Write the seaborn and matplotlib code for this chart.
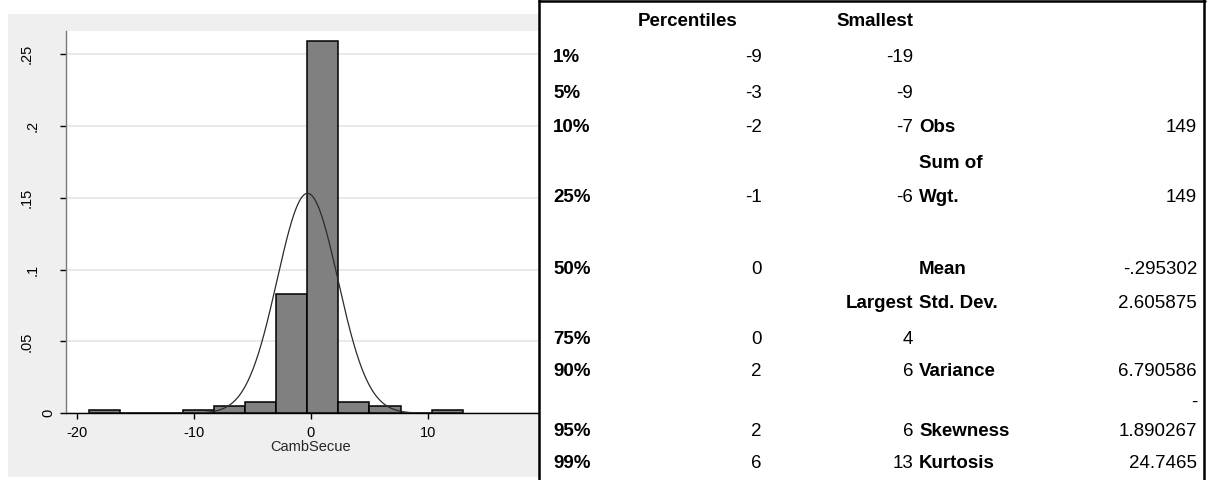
import numpy as np
import pandas as pd
import matplotlib
matplotlib.use("Agg")
import matplotlib.pyplot as plt
from matplotlib.patches import Rectangle
from matplotlib.lines import Line2D
from matplotlib.transforms import blended_transform_factory
import seaborn as sns

# Histogram of CambSecue: bin edges and observation counts per bin
bin_edges = [-19, -16.333, -13.667, -11, -8.333, -5.667, -3,
             -0.333, 2.333, 5, 7.667, 10.333, 13]
bin_counts = [1, 0, 0, 1, 2, 3, 33, 103, 3, 2, 0, 1]

# Summary statistics table
pct_labels = ["1%", "5%", "10%", "25%", "50%", "75%", "90%", "95%", "99%"]
pct_values = ["-9", "-3", "-2", "-1", "0", "0", "2", "2", "6"]
smallest = ["-19", "-9", "-7", "-6"]
largest = ["4", "6", "6", "13"]
obs = 149
sum_wgt = 149
mean = -0.295302
std_dev = 2.605875
variance = 6.790586
skewness = -1.890267
kurtosis = 24.7465
y_ticks = [0, 0.05, 0.1, 0.15, 0.2, 0.25]
y_tick_labels = ["0", ".05", ".1", ".15", ".2", ".25"]
x_ticks = [-20, -10, 0, 10]

W, H = 1207, 480
sns.set_theme(style="white")
plt.rcParams["font.family"] = ["Liberation Sans", "DejaVu Sans"]
plt.rcParams["text.color"] = "black"
plt.rcParams["xtick.color"] = "black"
plt.rcParams["ytick.color"] = "black"

fig = plt.figure(figsize=(W / 100, H / 100), dpi=100)
fig.patch.set_facecolor("white")


def fx(px):
    return px / W


def fy(py):
    return 1 - py / H


# light grey graph region behind the histogram
fig.patches.append(Rectangle((fx(8), fy(476.7)), fx(539) - fx(8), fy(14) - fy(476.7),
                             transform=fig.transFigure, facecolor="#efefef",
                             edgecolor="none", zorder=-5))

ax_l, ax_r, ax_t, ax_b = 65.7, 539, 31, 413.3
ax = fig.add_axes([fx(ax_l), fy(ax_b), fx(ax_r) - fx(ax_l), fy(ax_t) - fy(ax_b)])
ax.set_zorder(1)
ax.set_facecolor("white")

centers = [(a + b) / 2 for a, b in zip(bin_edges[:-1], bin_edges[1:])]
hist_df = pd.DataFrame({"CambSecue": centers, "n": bin_counts})
sns.histplot(data=hist_df, x="CambSecue", weights="n", bins=bin_edges,
             stat="density", color="#808080", edgecolor="black",
             linewidth=1.1, alpha=1, ax=ax, zorder=3)

# normal density with the sample mean and standard deviation
xs = np.linspace(bin_edges[0], bin_edges[-1], 600)
pdf = np.exp(-0.5 * ((xs - mean) / std_dev) ** 2) / (std_dev * np.sqrt(2 * np.pi))
sns.lineplot(x=xs, y=pdf, color="#2b2b2b", linewidth=0.9, ax=ax, zorder=4)

ax.set_xlim(-21.0, 19.52)
ax.set_ylim(0, 0.2661)
ax.set_yticks(y_ticks)
ax.set_yticklabels([])
ax.set_xticks(x_ticks)
ax.set_xticklabels([str(t) for t in x_ticks], fontsize=10.5)
ax.set_xlabel("CambSecue", fontsize=10.5)
ax.xaxis.label.set_va("center")
ax.xaxis.set_label_coords((311 - ax_l) / (ax_r - ax_l), -(447 - ax_b) / (ax_b - ax_t))
ax.set_ylabel("")
ax.grid(axis="y", color="#e3e3e3", linewidth=1.1, zorder=0)
ax.set_axisbelow(True)
for s in ["top", "right"]:
    ax.spines[s].set_visible(False)
ax.spines["left"].set_color("#7a7a7a")
ax.spines["left"].set_linewidth(1.0)
ax.spines["bottom"].set_color("black")
ax.spines["bottom"].set_linewidth(1.0)
ax.tick_params(axis="x", length=4.3, width=1, color="black", pad=4.5,
               bottom=True, labelcolor="black")
ax.tick_params(axis="y", length=4.1, width=1, color="black", left=True)

# vertical y tick labels, set off from the axis by their length
ylab_tf = blended_transform_factory(fig.transFigure, ax.transData)
ylab_x = {1: 48, 2: 33, 3: 27}
for val, lab in zip(y_ticks, y_tick_labels):
    ax.text(fx(ylab_x[len(lab)]), val, lab, transform=ylab_tf, rotation=90,
            ha="center", va="center", fontsize=10.5, color="black", clip_on=False)

# summary table on the right
fig.add_artist(Rectangle((fx(539), 0), fx(1207) - fx(539), 1,
                         transform=fig.transFigure, facecolor="white",
                         edgecolor="none", zorder=5))
fig.add_artist(Line2D([fx(539), fx(539)], [0, 1], color="black", lw=1.8,
                      transform=fig.transFigure, zorder=6))
fig.add_artist(Line2D([fx(1204), fx(1204)], [0, 1], color="black", lw=1.8,
                      transform=fig.transFigure, zorder=6))
fig.add_artist(Line2D([fx(539), fx(1205)], [fy(0.8), fy(0.8)], color="black", lw=1.8,
                      transform=fig.transFigure, zorder=6))

tfont = dict(fontsize=13.5, color="black", zorder=7)


def put(x, y, s, ha, bold=False):
    fig.text(fx(x), fy(y), s, ha=ha, va="center",
             fontweight="bold" if bold else "normal", **tfont)


col_label, col_pct, col_ext, col_name, col_val = 553, 762, 913, 919, 1197
row_y = [57, 93, 128, 198, 270, 340, 372, 432, 463]

put(688, 22, "Percentiles", "center", True)
put(col_ext, 22, "Smallest", "right", True)
for lab, val, y in zip(pct_labels, pct_values, row_y):
    put(col_label, y, lab, "left", True)
    put(col_pct, y, val, "right")
for val, y in zip(smallest, row_y[:4]):
    put(col_ext, y, val, "right")
put(col_ext, 304, "Largest", "right", True)
for val, y in zip(largest, row_y[5:]):
    put(col_ext, y, val, "right")

stat_rows = [
    (128, "Obs", f"{obs}"),
    (198, "Wgt.", f"{sum_wgt}"),
    (270, "Mean", f"{mean:.6f}".replace("0.", ".")),
    (304, "Std. Dev.", f"{std_dev:.6f}"),
    (372, "Variance", f"{variance:.6f}"),
    (432, "Skewness", f"{abs(skewness):.6f}"),
    (463, "Kurtosis", f"{kurtosis:g}"),
]
put(col_name, 163, "Sum of", "left", True)
for y, name, val in stat_rows:
    put(col_name, y, name, "left", True)
    put(col_val, y, val, "right")
put(col_val, 402, "-", "right")

fig.savefig("out.png", dpi=100, facecolor="white")
